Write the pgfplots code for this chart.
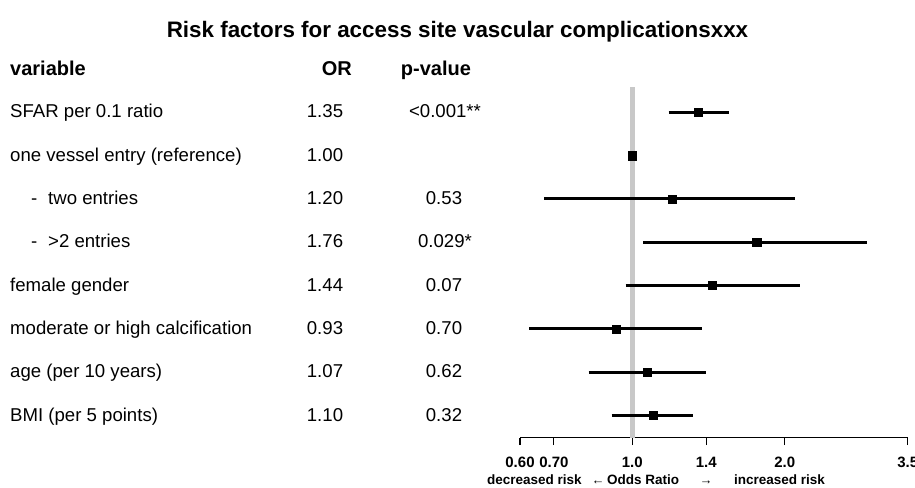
\documentclass[border=0pt]{standalone}
\usepackage{fontspec}
\setmainfont{Liberation Sans}
\usepackage{pgfplots}
\pgfplotsset{compat=1.18}
\definecolor{refgray}{RGB}{200,200,200}
\newcommand{\fs}[1]{\fontsize{#1}{#1}\selectfont}
\begin{document}
\begin{tikzpicture}[x=1pt,y=1pt]
\useasboundingbox (0,0) rectangle (915,487);
% title
\node[anchor=mid, inner sep=0, font=\fs{22.4}\bfseries] at (457.5,452.5) {Risk factors for access site vascular complicationsxxx};
% headers
\node[anchor=mid west, inner sep=0, font=\fs{20}\bfseries] at (10,414) {variable};
\node[anchor=mid east, inner sep=0, font=\fs{20}\bfseries] at (352,414) {OR};
\node[anchor=mid, inner sep=0, font=\fs{20}\bfseries] at (436,414) {p-value};
% labels
\begin{scope}[yshift=-3pt, every node/.style={inner sep=0, font=\fs{18.6}}]
\node[anchor=mid west] at (10,374.7) {SFAR per 0.1 ratio};
\node[anchor=mid west] at (10,331.4) {one vessel entry (reference)};
\node[anchor=mid west] at (31,288.1) {-};
\node[anchor=mid west] at (48,288.1) {two entries};
\node[anchor=mid west] at (31,244.8) {-};
\node[anchor=mid west] at (48,244.8) {>2 entries};
\node[anchor=mid west] at (10,201.5) {female gender};
\node[anchor=mid west] at (10,158.2) {moderate or high calcification};
\node[anchor=mid west] at (10,114.9) {age (per 10 years)};
\node[anchor=mid west] at (10,71.6) {BMI (per 5 points)};
% OR
\node[anchor=mid] at (325,374.7) {1.35};
\node[anchor=mid] at (325,331.4) {1.00};
\node[anchor=mid] at (325,288.1) {1.20};
\node[anchor=mid] at (325,244.8) {1.76};
\node[anchor=mid] at (325,201.5) {1.44};
\node[anchor=mid] at (325,158.2) {0.93};
\node[anchor=mid] at (325,114.9) {1.07};
\node[anchor=mid] at (325,71.6) {1.10};
% p-values
\node[anchor=mid] at (445,374.7) {<0.001**};
\node[anchor=mid] at (444,288.1) {0.53};
\node[anchor=mid] at (445,244.8) {0.029*};
\node[anchor=mid] at (444,201.5) {0.07};
\node[anchor=mid] at (444,158.2) {0.70};
\node[anchor=mid] at (444,114.9) {0.62};
\node[anchor=mid] at (444,71.6) {0.32};
\end{scope}
% x label
\begin{scope}[every node/.style={inner sep=0, font=\fs{13.5}\bfseries, anchor=mid west}]
\node at (487,5.5) {decreased risk};
\node[anchor=mid, font=\fs{13}] at (598,5.5) {←};
\node at (607,5.5) {Odds Ratio};
\node[anchor=mid, font=\fs{13}] at (706,5.5) {→};
\node at (734,5.5) {increased risk};
\end{scope}
\begin{axis}[
  at={(713.85pt,224.4pt)}, anchor=center,
  scale only axis, width=387.7pt, height=350.2pt,
  xmode=log, xmin=0.6, xmax=3.5,
  ymin=-437.7, ymax=-87.5,
  axis x line*=bottom, axis y line=none,
  x axis line style={line width=1.2pt, -},
  xtick={0.6,0.7,1,1.4,2,3.5},
  xticklabels={0.60,0.70,1.0,1.4,2.0,3.5},
  xminorticks=false,
  xtick align=outside, major tick length=7.5pt,
  every tick/.style={black, line width=1.2pt},
  xticklabel style={font=\fs{15}\bfseries, yshift=-8.5pt},
  /pgf/number format/assume math mode=true,
  clip=false,
]
\addplot[refgray, line width=5.5pt] coordinates {(1,-437.7) (1,-87.5)};
\addplot[black, line width=3pt] coordinates {(1.18,-112.3) (1.55,-112.3)};
\addplot[black, line width=3pt] coordinates {(0.67,-198.9) (2.10,-198.9)};
\addplot[black, line width=3pt] coordinates {(1.05,-242.2) (2.91,-242.2)};
\addplot[black, line width=3pt] coordinates {(0.97,-285.5) (2.14,-285.5)};
\addplot[black, line width=3pt] coordinates {(0.626,-328.8) (1.37,-328.8)};
\addplot[black, line width=3pt] coordinates {(0.82,-372.1) (1.40,-372.1)};
\addplot[black, line width=3pt] coordinates {(0.91,-415.4) (1.32,-415.4)};
\addplot[only marks, mark=square*, mark size=4.1pt, mark options={fill=black, draw=black, line width=0.2pt}] coordinates {
(1.35,-112.3) (1.00,-155.6) (1.20,-198.9) (1.76,-242.2) (1.44,-285.5) (0.93,-328.8) (1.07,-372.1) (1.10,-415.4)};
\end{axis}
\end{tikzpicture}
\end{document}
